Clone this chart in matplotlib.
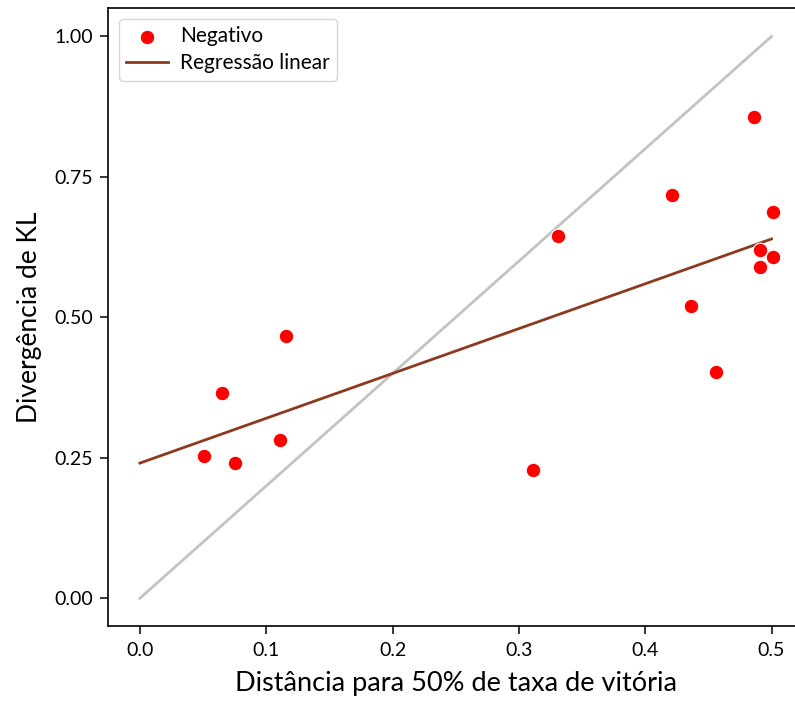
import numpy as np
import matplotlib
matplotlib.use("Agg")
import matplotlib.pyplot as plt

plt.rcParams["font.family"] = ["Lato", "DejaVu Sans"]

# distância para 50% de taxa de vitória vs divergência de KL (grupo negativo)
dist_50 = [0.051, 0.065, 0.075, 0.111, 0.116, 0.311, 0.331, 0.421,
           0.4365, 0.456, 0.4865, 0.491, 0.491, 0.501, 0.501]
kl_div = [0.253, 0.365, 0.240, 0.281, 0.466, 0.228, 0.644, 0.717,
          0.520, 0.402, 0.856, 0.619, 0.589, 0.607, 0.687]

x_ref = [0.0, 0.5]
y_ref = [0.0, 1.0]

x = np.array(dist_50)
y = np.array(kl_div)
slope, intercept = np.polyfit(x, y, 1)
x_fit = np.array([0.0, 0.5])
y_fit = intercept + slope * x_fit

fig = plt.figure(figsize=(7.95, 7.04), dpi=100)
ax = fig.add_axes([0.1362, 0.1102, 0.874, 0.878])

ax.plot(x_ref, y_ref, color="#c3c3c3", lw=2, zorder=1)
ax.scatter(x, y, s=110, color="#ff0000", edgecolor="white", linewidth=0.8,
           label="Negativo", zorder=3)
ax.plot(x_fit, y_fit, color="#8b3a20", lw=2, label="Regressão linear", zorder=2)

ax.set_xlim(-0.025, 0.525)
ax.set_ylim(-0.05, 1.05)
ax.set_xticks([0.0, 0.1, 0.2, 0.3, 0.4, 0.5])
ax.set_yticks([0.0, 0.25, 0.5, 0.75, 1.0])
ax.set_yticklabels(["0.00", "0.25", "0.50", "0.75", "1.00"])
ax.tick_params(labelsize=14, length=6, width=1.1, pad=5)
for sp in ax.spines.values():
    sp.set_linewidth(1.2)

ax.set_xlabel("Distância para 50% de taxa de vitória", fontsize=19.5, labelpad=9)
ax.set_ylabel("Divergência de KL", fontsize=19, labelpad=9)

ax.legend(loc="upper left", fontsize=15, frameon=True, borderpad=0.35,
          labelspacing=0.35, handlelength=2.0, handletextpad=0.6)

fig.savefig("out.png", dpi=100)
